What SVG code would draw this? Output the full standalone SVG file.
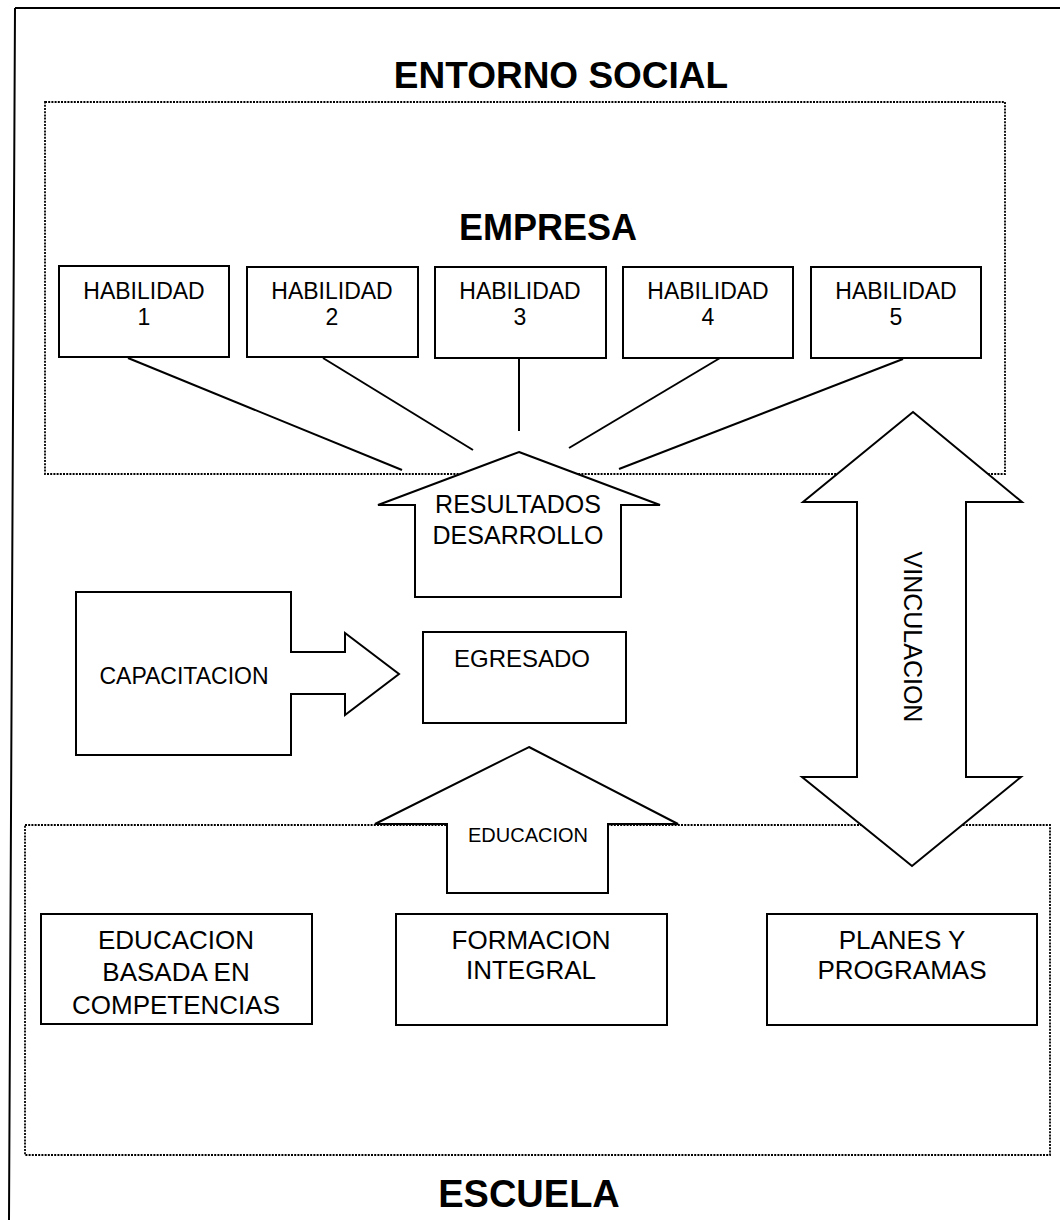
<svg xmlns="http://www.w3.org/2000/svg" width="1060" height="1220" viewBox="0 0 1060 1220">
<style>
.t{font-family:"Liberation Sans",Arial,sans-serif;fill:#000;text-anchor:middle}
.b{font-weight:bold}
.box{fill:#fff;stroke:#000;stroke-width:2}
.dot{fill:none;stroke:#000;stroke-width:1.8;stroke-dasharray:2 1.2}
.ln{stroke:#000;stroke-width:2;fill:none}
</style>
<rect width="1060" height="1220" fill="#fff"/>
<g id="frame">
<path class="ln" d="M15,8 L1060,8 M15,8 L9,1220" stroke-width="2.5"/>
</g>
<g id="entorno-social">
<text class="t b" x="561" y="88" font-size="37">ENTORNO SOCIAL</text>
</g>
<g id="empresa">
<rect class="dot" x="45" y="102" width="960" height="372"/>
<text class="t b" x="548" y="240" font-size="36">EMPRESA</text>
</g>
<g id="escuela">
<rect class="dot" x="25" y="825" width="1025" height="330"/>
<text class="t b" x="529" y="1207" font-size="38">ESCUELA</text>
</g>
<g id="connectors">
<line class="ln" x1="128" y1="358" x2="402" y2="470"/>
<line class="ln" x1="323" y1="358" x2="473" y2="450"/>
<line class="ln" x1="519" y1="358" x2="519" y2="431"/>
<line class="ln" x1="720" y1="358" x2="569" y2="448"/>
<line class="ln" x1="903" y1="359" x2="619" y2="469"/>
</g>
<g id="habilidad1">
<rect class="box" x="59" y="266" width="170" height="91"/>
<text class="t" x="144" y="299" font-size="23">HABILIDAD</text>
<text class="t" x="144" y="325" font-size="23">1</text>
</g>
<g id="habilidad2">
<rect class="box" x="247" y="267" width="171" height="90"/>
<text class="t" x="332" y="299" font-size="23">HABILIDAD</text>
<text class="t" x="332" y="325" font-size="23">2</text>
</g>
<g id="habilidad3">
<rect class="box" x="435" y="267" width="171" height="91"/>
<text class="t" x="520" y="299" font-size="23">HABILIDAD</text>
<text class="t" x="520" y="325" font-size="23">3</text>
</g>
<g id="habilidad4">
<rect class="box" x="623" y="267" width="170" height="91"/>
<text class="t" x="708" y="299" font-size="23">HABILIDAD</text>
<text class="t" x="708" y="325" font-size="23">4</text>
</g>
<g id="habilidad5">
<rect class="box" x="811" y="267" width="170" height="91"/>
<text class="t" x="896" y="299" font-size="23">HABILIDAD</text>
<text class="t" x="896" y="325" font-size="23">5</text>
</g>
<g id="resultados-desarrollo">
<polygon class="box" points="519,452 660,505 621,505 621,597 415,597 415,505 378,505"/>
<text class="t" x="518" y="513" font-size="25">RESULTADOS</text>
<text class="t" x="518" y="544" font-size="25">DESARROLLO</text>
</g>
<g id="capacitacion">
<polygon class="box" points="76,592 291,592 291,652 345,652 345,633 399,674 345,715 345,694 291,694 291,755 76,755"/>
<text class="t" x="184" y="684" font-size="23">CAPACITACION</text>
</g>
<g id="egresado">
<rect class="box" x="423" y="632" width="203" height="91"/>
<text class="t" x="522" y="667" font-size="24">EGRESADO</text>
</g>
<g id="educacion">
<polygon class="box" points="529,747 678,824 608,824 608,893 447,893 447,824 375,824"/>
<text class="t" x="528" y="842" font-size="20">EDUCACION</text>
</g>
<g id="vinculacion">
<polygon class="box" points="913,412 1022,502 966,502 966,777 1021,777 912,866 802,777 857,777 857,502 803,502"/>
<text class="t" x="0" y="0" font-size="25" transform="translate(904,637) rotate(90)">VINCULACION</text>
</g>
<g id="educacion-competencias">
<rect class="box" x="41" y="914" width="271" height="110"/>
<text class="t" x="176" y="949" font-size="26">EDUCACION</text>
<text class="t" x="176" y="981" font-size="26">BASADA EN</text>
<text class="t" x="176" y="1014" font-size="26">COMPETENCIAS</text>
</g>
<g id="formacion-integral">
<rect class="box" x="396" y="914" width="271" height="111"/>
<text class="t" x="531" y="949" font-size="26">FORMACION</text>
<text class="t" x="531" y="979" font-size="26">INTEGRAL</text>
</g>
<g id="planes-programas">
<rect class="box" x="767" y="914" width="270" height="111"/>
<text class="t" x="902" y="949" font-size="26">PLANES Y</text>
<text class="t" x="902" y="979" font-size="26">PROGRAMAS</text>
</g>
</svg>
